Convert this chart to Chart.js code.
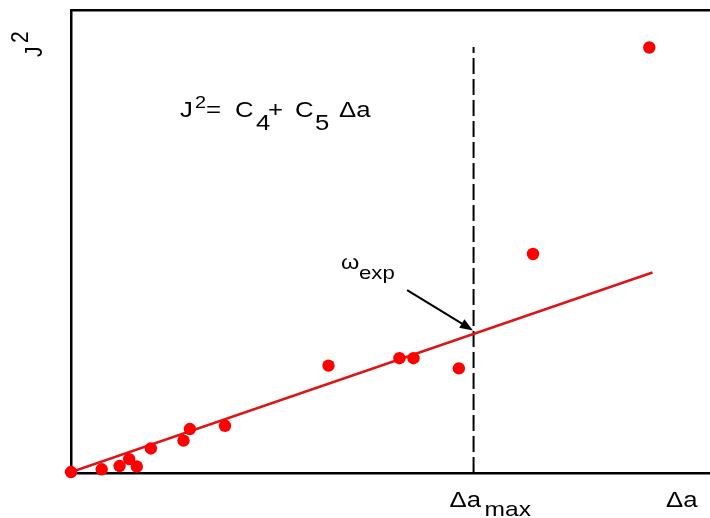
<!DOCTYPE html>
<html>
<head>
<meta charset="utf-8">
<script src="https://cdn.jsdelivr.net/npm/chart.js@4/dist/chart.umd.min.js"></script>
<style>
  html, body { margin: 0; background: #fff; overflow: hidden; }
  canvas { display: block; }
</style>
</head>
<body>
<!-- o canvas passa um pouco da janela (710) para a área do gráfico ir até a borda -->
<canvas id="grafico" width="717" height="518"></canvas>
<script>
// pontos medidos (Δa, J²) em unidades arbitrárias
var pontosX = [0.0, 0.48, 0.76, 0.91, 1.03, 1.25, 1.76, 1.86, 2.41, 4.03, 5.14, 5.36, 6.07, 7.23, 9.05];
var pontosY = [0.02, 0.08, 0.15, 0.30, 0.14, 0.53, 0.70, 0.95, 1.02, 2.32, 2.48, 2.48, 2.26, 4.73, 9.19];

// reta ajustada J² = C4 + C5 Δa
var retaX = [0.0, 9.10];
var retaY = [0.02, 4.33];

// limite Δa_max (linha tracejada)
var limiteX = [6.30, 6.30];
var limiteY = [0.0, 9.20];

// seta do ω_exp
var setaX = [5.26, 6.29];
var setaY = [3.95, 3.08];

function juntar(xs, ys) {
    var lista = [];
    for (var i = 0; i < xs.length; i++) {
        lista.push({ x: xs[i], y: ys[i] });
    }
    return lista;
}

var fonte = "'Liberation Sans', Arial, sans-serif";
var esticar = 1.17; // o texto do original é mais largo que o Arial normal

function texto(ctx, t, x, y, tam) {
    ctx.save();
    ctx.translate(x, y);
    ctx.scale(esticar, 1);
    ctx.font = tam + 'px ' + fonte;
    ctx.fillText(t, 0, 0);
    ctx.restore();
}

// textos e seta desenhados por cima do gráfico
var notas = {
    id: 'notas',
    afterDraw: function(chart) {
        var ctx = chart.ctx;
        var sx = chart.scales.x;
        var sy = chart.scales.y;
        ctx.save();
        ctx.fillStyle = '#000';
        ctx.textBaseline = 'alphabetic';

        // equação
        texto(ctx, 'J', 180, 117, 22);
        texto(ctx, '2', 195, 108, 17);
        texto(ctx, '=', 206, 117, 22);
        texto(ctx, 'C', 235, 117, 22);
        texto(ctx, '4', 256, 130, 22);
        texto(ctx, '+', 268, 117, 22);
        texto(ctx, 'C', 295, 117, 22);
        texto(ctx, '5', 315, 130, 22);
        texto(ctx, 'Δa', 339, 117, 22);

        // rótulo do eixo y
        ctx.save();
        ctx.translate(42, 57);
        ctx.rotate(-Math.PI / 2);
        ctx.scale(1, 1.15);
        ctx.font = '21px ' + fonte;
        ctx.fillText('J', 0, 0);
        ctx.fillText('2', 14, -12);
        ctx.restore();

        // rótulos do eixo x
        var xm = sx.getPixelForValue(limiteX[0]);
        texto(ctx, 'Δa', xm - 24, 507, 22);
        texto(ctx, 'max', xm + 11, 516, 21);
        texto(ctx, 'Δa', 666, 507, 22);

        // ω_exp
        texto(ctx, 'ω', 341, 269, 20);
        texto(ctx, 'exp', 359, 279, 19);

        // seta
        var x1 = sx.getPixelForValue(setaX[0]), y1 = sy.getPixelForValue(setaY[0]);
        var x2 = sx.getPixelForValue(setaX[1]), y2 = sy.getPixelForValue(setaY[1]);
        var ang = Math.atan2(y2 - y1, x2 - x1);
        var cab = 13;
        ctx.strokeStyle = '#000';
        ctx.lineWidth = 2;
        ctx.beginPath();
        ctx.moveTo(x1, y1);
        ctx.lineTo(x2 - cab * 0.8 * Math.cos(ang), y2 - cab * 0.8 * Math.sin(ang));
        ctx.stroke();
        ctx.beginPath();
        ctx.moveTo(x2, y2);
        ctx.lineTo(x2 - cab * Math.cos(ang) + 5 * Math.sin(ang), y2 - cab * Math.sin(ang) - 5 * Math.cos(ang));
        ctx.lineTo(x2 - cab * Math.cos(ang) - 5 * Math.sin(ang), y2 - cab * Math.sin(ang) + 5 * Math.cos(ang));
        ctx.closePath();
        ctx.fill();

        ctx.restore();
    }
};

var eixoVazio = {
    display: true,
    ticks: { display: false },
    grid: { display: false, drawTicks: false },
    border: { display: true, color: '#000', width: 2.5 }
};

new Chart(document.getElementById('grafico'), {
    type: 'scatter',
    data: {
        datasets: [
            {
                label: 'pontos',
                data: juntar(pontosX, pontosY),
                pointBackgroundColor: '#ff0000',
                pointBorderWidth: 0,
                pointRadius: 6.2,
                clip: false
            },
            {
                type: 'line',
                label: 'reta',
                data: juntar(retaX, retaY),
                borderColor: '#dc1616',
                borderWidth: 2.6,
                pointRadius: 0,
                fill: false
            },
            {
                type: 'line',
                label: 'limite',
                data: juntar(limiteX, limiteY),
                borderColor: '#000',
                borderWidth: 2,
                borderDash: [16, 5],
                pointRadius: 0,
                fill: false
            }
        ]
    },
    options: {
        responsive: false,
        devicePixelRatio: 1,
        animation: false,
        events: [],
        layout: { padding: { left: 71, top: 10, right: 7, bottom: 45 } },
        plugins: { legend: { display: false }, tooltip: { enabled: false } },
        scales: {
            x: Object.assign({ type: 'linear', position: 'bottom', min: 0, max: 10 }, eixoVazio),
            y: Object.assign({ type: 'linear', position: 'left', min: 0, max: 10 }, eixoVazio),
            topo: Object.assign({ type: 'linear', position: 'top', axis: 'x', min: 0, max: 10 }, eixoVazio)
        }
    },
    plugins: [notas]
});
</script>
</body>
</html>
